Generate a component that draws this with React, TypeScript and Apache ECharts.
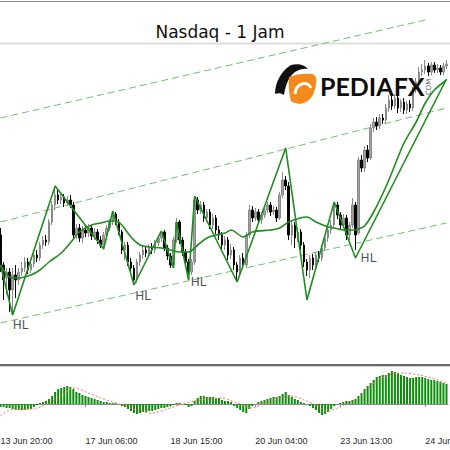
import React, { useEffect, useRef } from "react";
import * as echarts from "echarts";

// ---- data ----
const tickLabels = ["13 Jun 20:00", "17 Jun 06:00", "18 Jun 15:00", "20 Jun 04:00", "23 Jun 13:00", "24 Jun 22:00"];
const barsPerTick = 28;

// [open, close, low, high]
const candles: number[][] = [
  [165,132,128,172],[135,120,100,138],[122,128,105,132],[128,110,88,132],[110,125,85,132],
  [125,120,102,135],[120,128,115,132],[128,132,124,138],[132,138,128,143],[138,130,126,142],
  [130,136,127,140],[136,145,133,150],[145,142,138,150],[142,155,139,158],[155,160,151,164],
  [160,158,154,165],[158,178,155,181],[178,195,175,199],[195,205,190,214],[205,200,196,210],
  [200,203,196,207],[203,197,193,206],[197,200,194,204],[200,195,192,205],[195,165,162,198],
  [165,172,161,176],[172,162,158,176],[162,170,157,174],[170,167,163,175],[167,172,163,176],
  [172,164,160,175],[164,168,160,172],[168,160,156,171],[160,155,152,164],[155,165,151,168],
  [165,172,162,175],[172,178,169,181],[178,186,175,189],[186,178,175,188],[178,168,165,181],
  [168,150,146,170],[150,155,140,158],[155,138,134,158],[138,132,128,142],[132,120,115,135],
  [120,138,117,141],[138,145,134,148],[145,150,141,154],[150,147,143,153],[147,153,144,156],
  [153,150,146,157],[150,157,147,160],[157,162,154,165],[162,168,158,169],[168,152,149,170],
  [152,144,140,155],[144,135,132,147],[135,160,133,163],[160,178,157,182],[178,160,156,180],
  [160,148,144,163],[148,138,134,151],[138,128,120,141],[128,138,125,141],[138,200,135,204],
  [200,190,186,203],[190,195,186,199],[195,182,178,198],[182,188,178,191],[188,175,171,191],
  [175,182,171,186],[182,170,166,185],[170,165,160,174],[165,155,151,168],[155,160,150,164],
  [160,145,140,163],[145,150,141,156],[150,135,130,153],[135,128,118,138],[128,142,125,145],
  [142,135,132,147],[135,165,132,168],[165,190,162,195],[190,182,178,194],[182,188,179,192],
  [188,180,176,191],[180,185,176,188],[185,190,182,194],[190,195,187,198],[195,188,184,198],
  [188,190,185,194],[190,182,178,193],[182,205,180,208],[205,220,202,228],[220,214,210,224],
  [214,165,160,218],[165,175,155,178],[175,162,152,178],[162,168,158,172],[168,155,150,171],
  [155,138,133,158],[138,130,124,141],[130,142,122,145],[142,135,130,146],[135,145,131,148],
  [145,142,138,149],[142,152,139,155],[152,162,149,165],[162,170,158,174],[170,175,166,180],
  [175,195,172,198],[195,185,181,198],[185,175,170,188],[175,182,172,186],[182,165,160,185],
  [165,175,160,178],[175,195,172,202],[195,165,150,198],[167,240,165,243],[240,232,228,245],
  [232,250,228,254],[250,242,238,255],[242,272,240,276],[272,278,268,282],[278,274,270,283],
  [274,282,271,286],[282,280,276,286],[280,292,277,296],[292,300,288,305],[300,294,290,304],
  [294,302,291,306],[302,292,287,305],[292,298,288,301],[298,290,286,302],[290,296,286,299],
  [296,292,288,300],[292,310,289,313],[310,318,307,322],[318,328,315,333],[328,330,324,336],
  [330,334,326,340],[334,328,324,337],[328,335,325,338],[335,330,327,338],[330,332,327,336],
  [332,328,325,335],[328,334,325,337],[334,336,331,340],
];

// moving average [barIndex, value]
const maLine: number[][] = [
  [0,135],[3,123],[6,122],[10,125],[13,130],[16,138],[20,147],[23,157],[26,168],[30,175],
  [33,177],[36,179],[38,179],[40,175],[43,163],[46,155],[49,153],[53,152],[56,150],[59,148],
  [62,148],[65,155],[68,162],[71,165],[74,167],[76,170],[80,163],[83,168],[89,170],[92,172],
  [95,178],[101,183],[104,178],[108,173],[110,172],[113,170],[117,170],[118,171],[120,174],
  [123,188],[127,213],[130,235],[133,257],[137,278],[140,297],[143,310],[147,320],
];

// zigzag [barIndex, value]
const zigzag: number[][] = [
  [0,135],[4,85],[18,214],[34,151],[37,189],[44,115],[53,169],[57,132],[58,178],[62,120],
  [64,204],[78,118],[94,252],[101,100],[110,198],[117,142],[147,321],
];
const hlPoints: number[][] = [[4,85],[44,115],[62,120],[117,142]];

// channel lines [barIndex, value]
const channelTop: number[][] = [[0,282],[140,380]];
const channelMid: number[][] = [[0,178],[147,292]];
const channelLow: number[][] = [[0,77],[147,177]];

// oscillator histogram (one per bar) and its signal line
const histogram: number[] = [
  -3,-3,-4,-4,-5,-6,-6,-6,-6,-5,
  -5,-3,-1,1,2,3,5,8,12,15,
  16,17,18,17,15,12,11,9,8,7,
  6,5,4,3,2,2,1,1,1,0,
  -2,-3,-5,-7,-9,-10,-9,-8,-8,-7,
  -7,-6,-5,-4,-4,-3,-2,-1,1,1,
  0,-1,-3,-2,3,6,8,8,7,7,
  7,6,6,4,3,3,2,-2,-4,-6,
  -8,-9,-5,-2,0,2,3,4,5,6,
  7,7,8,10,12,9,7,5,4,2,
  1,0,-2,-4,-6,-9,-11,-10,-8,-5,
  -2,0,1,2,3,3,4,5,8,11,
  15,18,21,24,27,28,29,29,31,33,
  32,31,29,28,27,26,26,27,27,27,
  26,25,24,24,23,22,21,20,
];
const signal: number[][] = [
  [0,-12],[3,-6],[10,-5],[14,-2],[20,8],[24,16],[29,11],[33,6],[37,2],[40,-1],
  [46,-7],[50,-9],[55,-5],[59,-1],[64,3],[68,5],[73,6],[78,1],[83,-4],[87,1],
  [92,6],[96,8],[100,4],[104,-1],[108,-7],[111,-4],[116,3],[120,13],[124,23],[129,30],
  [133,31],[138,29],[142,26],[147,21],
];

// ---- logo shapes ----
echarts.graphic.registerShape(
  "pfxWing",
  echarts.graphic.extendPath("M0,30 C0,18 7,6 16,1 C23,-1 30,1 33,5 C26,4 20,7 16,12 C12,17 10,24 9,31 C6,29 3,29 0,30 Z", {})
);
echarts.graphic.registerShape(
  "pfxBlob",
  echarts.graphic.extendPath("M14,13 C21,10 31,9 37,10 C41,11 42,15 41,20 C40,28 37,35 31,38 C26,41 20,40 16,37 C14,30 13,21 14,13 Z", {})
);

export default function App() {
  const ref = useRef<HTMLDivElement>(null);

  useEffect(() => {
    if (!ref.current) return;
    const chart = echarts.init(ref.current, undefined, { renderer: "svg" });
    const cats = candles.map((_, i) => String(i));
    const tickFn = (idx: number) => idx % barsPerTick === 0;
    const green = "#1e8c1e";
    const dash = { color: "#6cc06c", width: 1, type: [7, 4] as number[] };

    chart.setOption({
      animation: false,
      backgroundColor: "#ffffff",
      grid: [
        { left: -1, right: 2, top: 2, height: 363, outerBoundsMode: "none", containLabel: false },
        { left: -1, right: 2, top: 367, height: 64, outerBoundsMode: "none", containLabel: false },
      ],
      xAxis: [
        { type: "category", gridIndex: 0, data: cats, boundaryGap: true, show: false },
        {
          type: "category",
          gridIndex: 1,
          data: cats,
          boundaryGap: true,
          axisLine: { show: true, lineStyle: { color: "#8c8c8c", width: 1 } },
          axisTick: { show: true, alignWithLabel: true, interval: tickFn, length: 3, lineStyle: { color: "#8c8c8c" } },
          axisLabel: {
            show: true,
            interval: tickFn,
            align: "left",
            margin: 5,
            color: "#2a2a2a",
            fontSize: 9,
            fontFamily: "Liberation Sans",
            hideOverlap: false,
            formatter: (_v: string, idx: number) => tickLabels[Math.round(idx / barsPerTick)] ?? "",
          },
          splitLine: { show: false },
        },
      ],
      yAxis: [
        { type: "value", gridIndex: 0, min: 35, max: 398, show: false, splitLine: { show: false } },
        { type: "value", gridIndex: 1, min: -27, max: 37, show: false, splitLine: { show: false } },
      ],
      series: [
        { type: "line", data: channelTop, symbol: "none", lineStyle: dash, silent: true, z: 1 },
        { type: "line", data: channelMid, symbol: "none", lineStyle: dash, silent: true, z: 1 },
        { type: "line", data: channelLow, symbol: "none", lineStyle: dash, silent: true, z: 1 },
        {
          type: "candlestick",
          data: candles,
          barWidth: 2,
          z: 2,
          itemStyle: {
            color: "#a2a2a2",
            color0: "#050505",
            borderColor: "#8a8a8a",
            borderColor0: "#050505",
            borderWidth: 1,
          },
        },
        { type: "line", data: maLine, symbol: "none", smooth: 0.3, lineStyle: { color: green, width: 1.6 }, z: 3 },
        { type: "line", data: zigzag, symbol: "none", lineStyle: { color: green, width: 1.6 }, z: 3 },
        {
          type: "scatter",
          data: hlPoints,
          symbolSize: 1,
          itemStyle: { color: "rgba(0,0,0,0)" },
          z: 4,
          label: {
            show: true,
            formatter: "HL",
            position: "inside",
            color: "#1c2232",
            fontSize: 12,
            fontFamily: "DejaVu Sans",
          },
          labelLayout: (p: any) => {
            const offs = [[8, 10], [9, 11], [10, 2], [13, 0]];
            const o = offs[p.dataIndex] || [0, 0];
            return { dx: o[0], dy: o[1] };
          },
        },
        {
          type: "bar",
          xAxisIndex: 1,
          yAxisIndex: 1,
          data: histogram,
          barWidth: 2,
          itemStyle: { color: "#0b8f0b" },
        },
        {
          type: "line",
          xAxisIndex: 1,
          yAxisIndex: 1,
          data: signal,
          symbol: "none",
          smooth: 0.3,
          lineStyle: { color: "#ff6f6f", width: 1, type: [2, 2] },
          z: 5,
        },
      ],
      graphic: [
        { type: "rect", shape: { x: 0, y: 1, width: 450, height: 1 }, style: { fill: "#8a8a8a" }, silent: true },
        { type: "rect", shape: { x: 0, y: 42.5, width: 450, height: 2 }, style: { fill: "#dedede" }, silent: true },
        {
          type: "text",
          x: 220,
          y: 32,
          style: {
            text: "Nasdaq - 1 Jam",
            fontSize: 17,
            fontFamily: "DejaVu Sans",
            fill: "#111111",
            textAlign: "center",
            textVerticalAlign: "middle",
          },
        },
        { type: "rect", shape: { x: 0, y: 364, width: 450, height: 2 }, style: { fill: "#6a6a6a" }, silent: true },
        { type: "rect", shape: { x: 0, y: 366, width: 450, height: 1 }, style: { fill: "#cfcfcf" }, silent: true },
        { type: "pfxWing", x: 275, y: 64, z: 20, style: { fill: "#111111" } },
        { type: "pfxBlob", x: 275, y: 64, z: 20, style: { fill: "#f28a1c" } },
        {
          type: "bezierCurve",
          x: 275,
          y: 64,
          z: 21,
          shape: { x1: 20, y1: 30, cpx1: 21, cpy1: 19, cpx2: 33, cpy2: 16, x2: 36, y2: 24 },
          style: { stroke: "#ffffff", lineWidth: 3, fill: "none" },
        },
        {
          type: "text",
          x: 320,
          y: 86,
          z: 20,
          style: {
            text: "PEDIAFX",
            fontSize: 25,
            fontWeight: "bold",
            fontFamily: "Lato",
            fill: "#0d0d0d",
            textVerticalAlign: "middle",
          },
        },
        {
          type: "text",
          x: 429,
          y: 88,
          z: 20,
          rotation: Math.PI / 2,
          style: {
            text: ".COM",
            fontSize: 7,
            fontFamily: "DejaVu Sans",
            fill: "#555555",
            textAlign: "center",
            textVerticalAlign: "middle",
          },
        },
      ],
    });

    return () => chart.dispose();
  }, []);

  return <div ref={ref} style={{ position: "fixed", left: 0, top: 0, width: 450, height: 450 }} />;
}
